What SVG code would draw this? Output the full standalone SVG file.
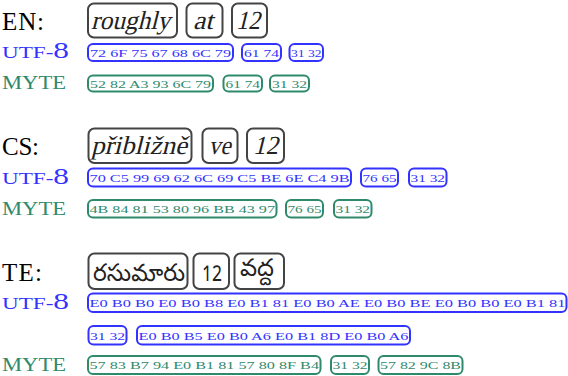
<svg xmlns="http://www.w3.org/2000/svg" width="568" height="376" viewBox="0 0 568 376">
<style>
.lab{font-family:"Liberation Serif","DejaVu Serif",serif;font-size:25px;fill:#000}
.sc{font-family:"Liberation Serif","DejaVu Serif",serif}
.u{fill:#3333ff}
.m{fill:#2f8a6c}
.wb{fill:none;stroke:#444;stroke-width:2}
.w{font-family:"Liberation Serif","DejaVu Serif",serif;font-size:26px;fill:#222}
.te{font-family:"Noto Sans Telugu","Noto Sans","DejaVu Sans",sans-serif;font-size:24px;fill:#222}
.ub{fill:none;stroke:#3333ff;stroke-width:2}
.mb{fill:none;stroke:#2f8a6c;stroke-width:2}
.h{font-family:"Liberation Serif","DejaVu Serif",serif;font-size:11px}
</style>
<g id="labels">
<text class="lab" x="2" y="30" textLength="42">EN:</text>
<text class="lab" x="2" y="155" textLength="37">CS:</text>
<text class="lab" x="2" y="281" textLength="40">TE:</text>
<text class="sc u" x="2" y="57.5" textLength="67" lengthAdjust="spacingAndGlyphs"><tspan font-size="17">UTF-</tspan><tspan font-size="23">8</tspan></text>
<text class="sc m" x="2" y="88.5" font-size="18" textLength="64" lengthAdjust="spacingAndGlyphs">MYTE</text>
<text class="sc u" x="2" y="184" textLength="67" lengthAdjust="spacingAndGlyphs"><tspan font-size="17">UTF-</tspan><tspan font-size="23">8</tspan></text>
<text class="sc m" x="2" y="214.5" font-size="18" textLength="64" lengthAdjust="spacingAndGlyphs">MYTE</text>
<text class="sc u" x="2" y="309" textLength="67" lengthAdjust="spacingAndGlyphs"><tspan font-size="17">UTF-</tspan><tspan font-size="23">8</tspan></text>
<text class="sc m" x="2" y="370.5" font-size="18" textLength="64" lengthAdjust="spacingAndGlyphs">MYTE</text>
</g>
<g id="en-words">
<rect class="wb" x="88" y="3.5" width="89" height="34" rx="6"/>
<text class="w" transform="translate(91,28.5) skewX(-14)" textLength="79" lengthAdjust="spacingAndGlyphs">roughly</text>
<rect class="wb" x="186.5" y="3.5" width="36" height="34" rx="6"/>
<text class="w" transform="translate(193,28.5) skewX(-14)" textLength="20" lengthAdjust="spacingAndGlyphs">at</text>
<rect class="wb" x="232" y="3.5" width="35" height="34" rx="6"/>
<text class="w" transform="translate(236,28.5) skewX(-14)" textLength="24" lengthAdjust="spacingAndGlyphs">12</text>
</g>
<g id="en-utf8">
<rect class="ub" x="88" y="44" width="145" height="17" rx="5"/>
<text class="h u" x="90" y="56.5" textLength="141" lengthAdjust="spacingAndGlyphs">72 6F 75 67 68 6C 79</text>
<rect class="ub" x="242" y="44" width="39" height="17" rx="5"/>
<text class="h u" x="244" y="56.5" textLength="35" lengthAdjust="spacingAndGlyphs">61 74</text>
<rect class="ub" x="289.5" y="44" width="33.5" height="17" rx="5"/>
<text class="h u" x="291" y="56.5" textLength="30.5" lengthAdjust="spacingAndGlyphs">31 32</text>
</g>
<g id="en-myte">
<rect class="mb" x="88" y="75.5" width="125" height="16" rx="5"/>
<text class="h m" x="90" y="87.5" textLength="121" lengthAdjust="spacingAndGlyphs">52 82 A3 93 6C 79</text>
<rect class="mb" x="223.5" y="75.5" width="38.5" height="16" rx="5"/>
<text class="h m" x="225.5" y="87.5" textLength="34.5" lengthAdjust="spacingAndGlyphs">61 74</text>
<rect class="mb" x="270" y="75.5" width="39" height="16" rx="5"/>
<text class="h m" x="272" y="87.5" textLength="35" lengthAdjust="spacingAndGlyphs">31 32</text>
</g>
<g id="cs-words">
<rect class="wb" x="88.5" y="128.5" width="103" height="34.5" rx="6"/>
<text class="w" transform="translate(91,154) skewX(-14)" textLength="96" lengthAdjust="spacingAndGlyphs">přibližně</text>
<rect class="wb" x="202.5" y="128.5" width="35" height="34.5" rx="6"/>
<text class="w" transform="translate(208.5,154) skewX(-14)" textLength="22" lengthAdjust="spacingAndGlyphs">ve</text>
<rect class="wb" x="247" y="128.5" width="37" height="34.5" rx="6"/>
<text class="w" transform="translate(253,154) skewX(-14)" textLength="25" lengthAdjust="spacingAndGlyphs">12</text>
</g>
<g id="cs-utf8">
<rect class="ub" x="88" y="168.5" width="263" height="18" rx="5"/>
<text class="h u" x="89.5" y="181.5" textLength="260" lengthAdjust="spacingAndGlyphs">70 C5 99 69 62 6C 69 C5 BE 6E C4 9B</text>
<rect class="ub" x="361" y="168.5" width="37" height="18" rx="5"/>
<text class="h u" x="362.5" y="181.5" textLength="34" lengthAdjust="spacingAndGlyphs">76 65</text>
<rect class="ub" x="409" y="168.5" width="37.5" height="18" rx="5"/>
<text class="h u" x="410.5" y="181.5" textLength="34.5" lengthAdjust="spacingAndGlyphs">31 32</text>
</g>
<g id="cs-myte">
<rect class="mb" x="88" y="200" width="188.5" height="17.5" rx="5"/>
<text class="h m" x="89.5" y="213" textLength="185.5" lengthAdjust="spacingAndGlyphs">4B 84 81 53 80 96 BB 43 97</text>
<rect class="mb" x="286" y="200" width="37" height="17.5" rx="5"/>
<text class="h m" x="287.5" y="213" textLength="34" lengthAdjust="spacingAndGlyphs">76 65</text>
<rect class="mb" x="334" y="200" width="37.5" height="17.5" rx="5"/>
<text class="h m" x="335.5" y="213" textLength="34.5" lengthAdjust="spacingAndGlyphs">31 32</text>
</g>
<g id="te-words">
<rect class="wb" x="88.5" y="253.5" width="99" height="35.5" rx="6"/>
<text class="te" x="93" y="281" textLength="92" lengthAdjust="spacingAndGlyphs">రసుమారు</text>
<rect class="wb" x="193.5" y="253.5" width="35.5" height="35.5" rx="6"/>
<text class="te" x="202" y="281" font-size="25" textLength="20" lengthAdjust="spacingAndGlyphs">12</text>
<rect class="wb" x="234.5" y="253.5" width="49.5" height="35.5" rx="6"/>
<text class="te" x="240" y="276">వద్ద</text>
</g>
<g id="te-utf8">
<rect class="ub" x="88" y="293.5" width="478.5" height="18.5" rx="5"/>
<text class="h u" x="89.5" y="307" textLength="476" lengthAdjust="spacingAndGlyphs">E0 B0 B0 E0 B0 B8 E0 B1 81 E0 B0 AE E0 B0 BE E0 B0 B0 E0 B1 81</text>
<rect class="ub" x="88.5" y="326" width="38" height="18.5" rx="5"/>
<text class="h u" x="90" y="339.5" textLength="35" lengthAdjust="spacingAndGlyphs">31 32</text>
<rect class="ub" x="137" y="326" width="273" height="18.5" rx="5"/>
<text class="h u" x="138.5" y="339.5" textLength="270" lengthAdjust="spacingAndGlyphs">E0 B0 B5 E0 B0 A6 E0 B1 8D E0 B0 A6</text>
</g>
<g id="te-myte">
<rect class="mb" x="88" y="356" width="232.5" height="18" rx="5"/>
<text class="h m" x="89.5" y="369" textLength="229.5" lengthAdjust="spacingAndGlyphs">57 83 B7 94 E0 B1 81 57 80 8F B4</text>
<rect class="mb" x="331" y="356" width="38" height="18" rx="5"/>
<text class="h m" x="332.5" y="369" textLength="35" lengthAdjust="spacingAndGlyphs">31 32</text>
<rect class="mb" x="378.5" y="356" width="84" height="18" rx="5"/>
<text class="h m" x="380" y="369" textLength="81" lengthAdjust="spacingAndGlyphs">57 82 9C 8B</text>
</g>
</svg>
